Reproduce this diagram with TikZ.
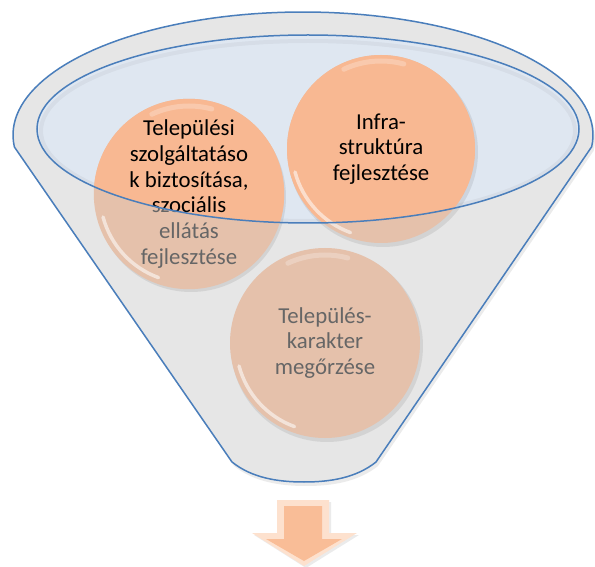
\documentclass[tikz,border=0pt]{standalone}
\usepackage{fontspec}
\setmainfont{Carlito}
\definecolor{rimblue}{HTML}{4A7EBB}
\definecolor{bodygray}{HTML}{E6E6E6}
\definecolor{mouthblue}{HTML}{DFE7F1}
\definecolor{salmon}{HTML}{F8B892}
\definecolor{mutedsalmon}{HTML}{E5C1AB}
\definecolor{mutedtext}{HTML}{666666}
\definecolor{arrowlight}{HTML}{FDE1CE}
\definecolor{arrowmid}{HTML}{F9BD97}
\newcommand{\FunnelOutline}{plot[domain=0:1, samples=90] ({303+290*cos(185.6-191.2*\x)},{431+123*sin(185.6-191.2*\x)}) -- (376,104) .. controls (356,88) and (330,84) .. (304,84) .. controls (278,84) and (252,88) .. (232,104) -- cycle}
\tikzset{
  funnelbody/.style={fill=bodygray, draw=rimblue, line width=1.5pt, line join=round},
  bubble/.style={circle, minimum size=188pt, inner sep=0pt, align=center,
    font=\fontsize{22.8}{25.8}\selectfont},
  mutedbubble/.style={bubble, fill=mutedsalmon, text=mutedtext},
  brightbubble/.style={bubble, fill=salmon, text=black},
  bubbleshadow/.style={fill=black, opacity=0.08},
  gloss/.style={draw=white, line width=3.5pt, opacity=0.55, line cap=round},
  topgloss/.style={draw=white, line width=5pt, opacity=0.25, line cap=round}
}
\begin{document}
\begin{tikzpicture}[x=1pt,y=1pt]
\useasboundingbox (0,0) rectangle (595,566);
% funnel shadow and body
\path[fill=black, opacity=0.08, shift={(2,-4)}] \FunnelOutline;
\path[funnelbody] \FunnelOutline;
% mouth of the funnel
\fill[mouthblue] (308,437) ellipse [x radius=271, y radius=94];
\draw[black, opacity=0.04, line width=4pt] (308,435) ellipse [x radius=267, y radius=90];
% muted bubbles (seen through the funnel)
\fill[bubbleshadow] (191,369) circle (95);
\fill[bubbleshadow] (383,414) circle (95);
\fill[bubbleshadow] (327,220) circle (96);
\node[mutedbubble] (c1) at (189,372) {Települési\\szolgáltatáso\\k biztosítása,\\szociális\\ellátás\\fejlesztése};
\node[mutedbubble] (c2) at (381,417) {Infra-\\struktúra\\fejlesztése};
\node[mutedbubble, minimum size=190pt] (c3) at (325,223) {Település-\\karakter\\megőrzése};
\foreach \c in {c1,c2,c3}{
  \draw[gloss] ([shift={(195:89)}]\c.center) arc[start angle=195, end angle=250, radius=89];
  \draw[topgloss] ([shift={(75:88)}]\c.center) arc[start angle=75, end angle=115, radius=88];
}
% bright bubbles inside the mouth
\begin{scope}
  \clip (308,437) ellipse [x radius=271, y radius=94];
  \node[brightbubble] (c1b) at (189,372) {Települési\\szolgáltatáso\\k biztosítása,\\szociális\\ellátás\\fejlesztése};
  \node[brightbubble] (c2b) at (381,417) {Infra-\\struktúra\\fejlesztése};
  \foreach \c in {c1b,c2b}{
    \draw[gloss] ([shift={(195:89)}]\c.center) arc[start angle=195, end angle=250, radius=89];
    \draw[topgloss] ([shift={(75:88)}]\c.center) arc[start angle=75, end angle=115, radius=88];
  }
\end{scope}
\draw[rimblue, line width=1.5pt] (308,437) ellipse [x radius=271, y radius=94];
% arrow below the funnel
\fill[black, opacity=0.08] (279,64) -- (331,64) -- (331,31) -- (359,31) -- (306,-2) -- (254,31) -- (279,31) -- cycle;
\fill[arrowlight] (277,66) -- (329,66) -- (329,33) -- (357,33) -- (304,0) -- (252,33) -- (277,33) -- cycle;
\fill[arrowmid] (284,60) -- (322,60) -- (322,27) -- (342,27) -- (304,5) -- (266,27) -- (284,27) -- cycle;
\end{tikzpicture}
\end{document}
